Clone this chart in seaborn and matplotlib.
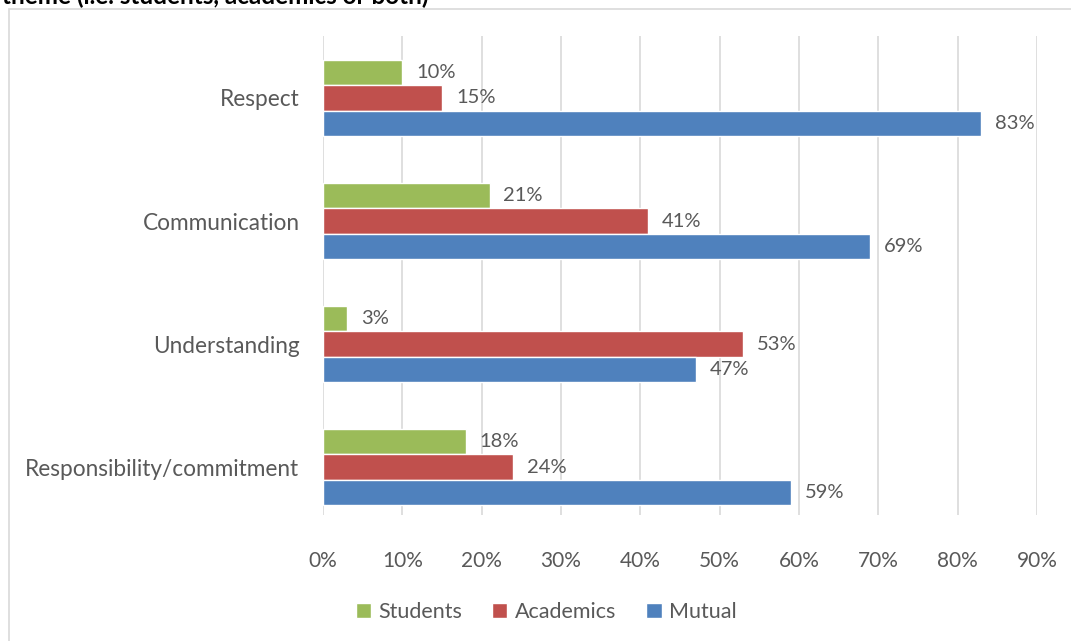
import matplotlib
matplotlib.use("Agg")
import matplotlib.pyplot as plt
from matplotlib.patches import Rectangle
from matplotlib.ticker import PercentFormatter
import seaborn as sns
import pandas as pd

themes = ["Respect", "Communication", "Understanding", "Responsibility/commitment"]
groups = ["Students", "Academics", "Mutual"]
students = [10, 21, 3, 18]
academics = [15, 41, 53, 24]
mutual = [83, 69, 47, 59]
x_ticks = [0, 10, 20, 30, 40, 50, 60, 70, 80, 90]
palette = {"Students": "#9BBB59", "Academics": "#C0504D", "Mutual": "#4F81BD"}

df = pd.DataFrame({
    "theme": themes * 3,
    "group": [g for g in groups for _ in themes],
    "value": students + academics + mutual,
})

sns.set_theme(style="white")
plt.rcParams["font.family"] = ["Lato", "DejaVu Sans"]
text_color = "#595959"
grid_color = "#D9D9D9"

fig = plt.figure(figsize=(10.71, 6.41), dpi=100)
ax = fig.add_axes([323 / 1071, 1 - 515 / 641, (1037 - 323) / 1071, (515 - 36) / 641])

sns.barplot(data=df, y="theme", x="value", hue="group", order=themes,
            hue_order=groups, palette=palette, orient="h", width=0.62,
            saturation=1, ax=ax, legend=True)

for c in ax.containers:
    ax.bar_label(c, labels=[f"{v:.0f}%" for v in c.datavalues], padding=10,
                 fontsize=14.5, color=text_color)

ax.set_xlim(0, 90)
ax.set_ylim(3.39, -0.504)
ax.set_xticks(x_ticks)
ax.xaxis.set_major_formatter(PercentFormatter(decimals=0))
ax.grid(axis="x", color=grid_color, linewidth=1.2)
ax.grid(axis="y", visible=False)
ax.set_axisbelow(True)
for s in ax.spines.values():
    s.set_visible(False)
ax.tick_params(axis="x", length=0, pad=26, labelsize=15, labelcolor=text_color)
ax.tick_params(axis="y", length=0, pad=17, labelsize=16.3, labelcolor=text_color)
ax.set_xlabel("")
ax.set_ylabel("")

handles, labels = ax.get_legend_handles_labels()
ax.legend_.remove()
fig.legend(handles, labels, loc="center", bbox_to_anchor=(0.51, 1 - 612 / 641),
           ncol=3, frameon=False, fontsize=15.5, labelcolor=text_color,
           handlelength=0.7, handleheight=0.7, handletextpad=0.35,
           columnspacing=1.4)

fig.patches.append(Rectangle((9 / 1071, -0.05), 1.1, 1 - 9 / 641 + 0.05,
                             transform=fig.transFigure, fill=False,
                             edgecolor=grid_color, linewidth=1.2))
fig.text(2 / 1071, 1 - 4 / 641, "theme (i.e. students, academics or both)",
         fontsize=17.5, fontweight="bold", color="black", ha="left", va="baseline")

fig.savefig("out.png", dpi=100, facecolor="white")
